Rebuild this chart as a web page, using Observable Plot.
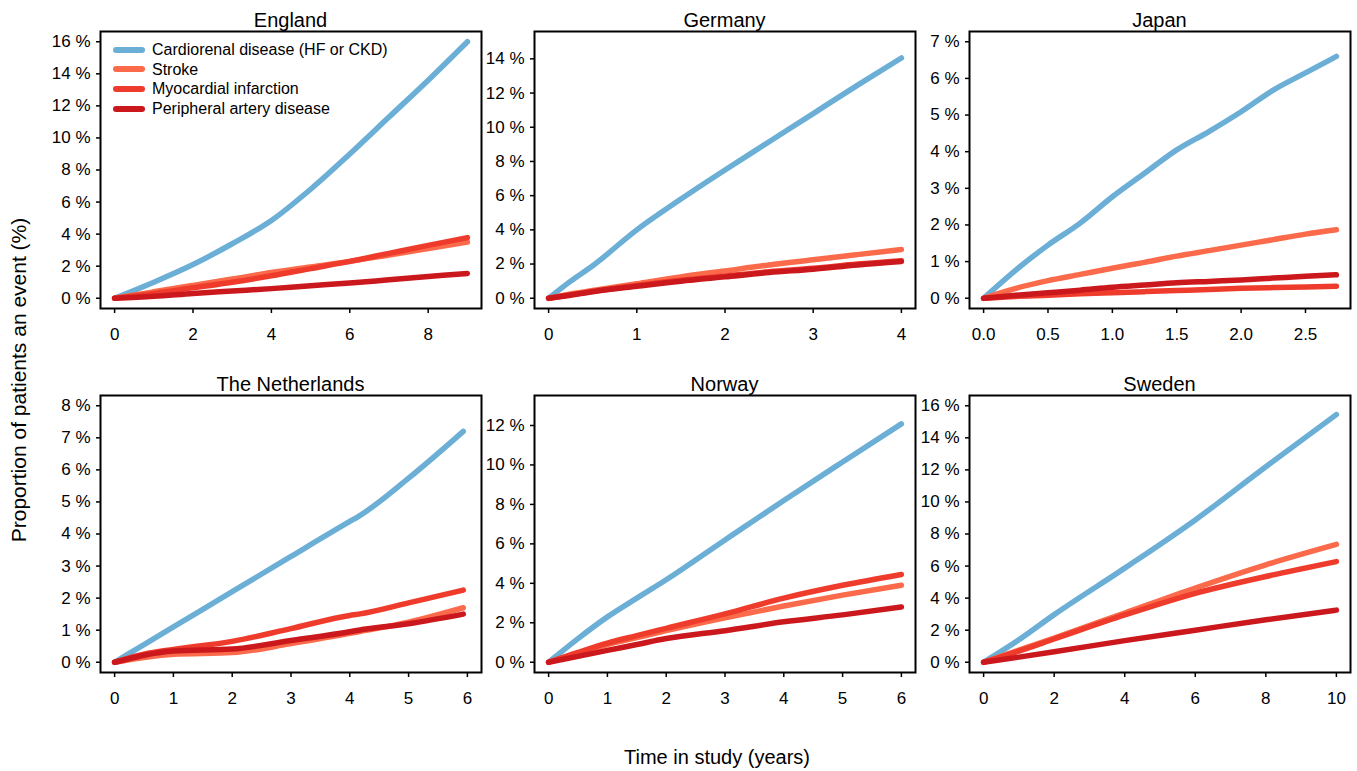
<!DOCTYPE html>
<html><head><meta charset="utf-8">
<script src="https://cdn.jsdelivr.net/npm/d3@7"></script>
<script src="https://cdn.jsdelivr.net/npm/@observablehq/plot@0.6"></script>
<style>
body{margin:0;background:#fff;font-family:"Liberation Sans",Arial,sans-serif;color:#000;}
#root{position:relative;width:1357px;height:771px;overflow:hidden;background:#fff;}
.panel{position:absolute;}
.title{position:absolute;text-align:center;font-size:20px;line-height:20px;white-space:nowrap;}
.xlab{position:absolute;left:617px;width:200px;top:747px;text-align:center;font-size:20px;line-height:20px;white-space:nowrap;}
.ylab{position:absolute;left:18px;top:380px;transform:translate(-50%,-50%) rotate(-90deg);font-size:21px;line-height:21px;white-space:nowrap;}
.legend{position:absolute;left:113px;top:40px;font-size:16px;line-height:19.6px;}
.legend div{display:flex;align-items:center;height:19.6px;white-space:nowrap;}
.legend span.sw{display:inline-block;width:32px;height:6px;border-radius:3px;margin-right:7px;}
</style></head>
<body><div id="root"></div>
<script>
// ---- series ----
const seriesNames = ["Cardiorenal disease (HF or CKD)", "Stroke", "Myocardial infarction", "Peripheral artery disease"];
const seriesColors = ["#6baed6", "#fb6a4a", "#ef3b2c", "#cb181d"];

// ---- England ----
const englandTimes = [0, 1, 2, 3, 4, 5, 6, 7, 8, 9];
const englandCardio = [0, 1.0, 2.1, 3.4, 4.85, 6.8, 9.0, 11.3, 13.6, 16.0];
const englandStroke = [0, 0.4, 0.8, 1.2, 1.6, 1.95, 2.3, 2.7, 3.1, 3.5];
const englandMI = [0, 0.3, 0.65, 1.0, 1.4, 1.85, 2.3, 2.8, 3.3, 3.78];
const englandPAD = [0, 0.12, 0.3, 0.45, 0.6, 0.78, 0.95, 1.15, 1.35, 1.55];
const englandXTicks = [0, 2, 4, 6, 8];
const englandYTicks = [0, 2, 4, 6, 8, 10, 12, 14, 16];

// ---- Germany ----
const germanyTimes = [0, 0.25, 0.5, 1, 1.5, 2, 2.5, 3, 3.5, 4];
const germanyCardio = [0, 1.0, 1.9, 4.0, 5.8, 7.5, 9.15, 10.8, 12.45, 14.05];
const germanyStroke = [0, 0.25, 0.45, 0.85, 1.25, 1.6, 1.95, 2.25, 2.55, 2.85];
const germanyMI = [0, 0.2, 0.4, 0.75, 1.05, 1.3, 1.55, 1.75, 2.0, 2.2];
const germanyPAD = [0, 0.18, 0.38, 0.7, 1.0, 1.25, 1.5, 1.7, 1.95, 2.15];
const germanyXTicks = [0, 1, 2, 3, 4];
const germanyYTicks = [0, 2, 4, 6, 8, 10, 12, 14];

// ---- Japan ----
const japanTimes = [0, 0.25, 0.5, 0.75, 1, 1.25, 1.5, 1.75, 2, 2.25, 2.5, 2.74];
const japanCardio = [0, 0.77, 1.45, 2.05, 2.77, 3.41, 4.05, 4.55, 5.09, 5.68, 6.15, 6.6];
const japanStroke = [0, 0.27, 0.48, 0.65, 0.82, 0.98, 1.15, 1.3, 1.45, 1.6, 1.75, 1.87];
const japanMI = [0, 0.05, 0.08, 0.12, 0.15, 0.18, 0.21, 0.24, 0.27, 0.29, 0.31, 0.33];
const japanPAD = [0, 0.08, 0.15, 0.22, 0.3, 0.36, 0.42, 0.46, 0.5, 0.55, 0.6, 0.64];
const japanXTicks = [0, 0.5, 1.0, 1.5, 2.0, 2.5];
const japanYTicks = [0, 1, 2, 3, 4, 5, 6, 7];

// ---- The Netherlands ----
const netherlandsTimes = [0, 0.5, 1, 2, 3, 4, 4.15, 5, 5.93];
const netherlandsCardio = [0, 0.55, 1.1, 2.2, 3.3, 4.39, 4.55, 5.74, 7.2];
const netherlandsStroke = [0, 0.15, 0.25, 0.3, 0.58, 0.9, 0.95, 1.25, 1.7];
const netherlandsMI = [0, 0.25, 0.4, 0.65, 1.05, 1.46, 1.5, 1.85, 2.25];
const netherlandsPAD = [0, 0.22, 0.35, 0.41, 0.68, 0.95, 1.0, 1.2, 1.5];
const netherlandsXTicks = [0, 1, 2, 3, 4, 5, 6];
const netherlandsYTicks = [0, 1, 2, 3, 4, 5, 6, 7, 8];

// ---- Norway ----
const norwayTimes = [0, 0.5, 1, 1.5, 2, 3, 4, 5, 6];
const norwayCardio = [0, 1.2, 2.3, 3.25, 4.18, 6.2, 8.2, 10.15, 12.08];
const norwayStroke = [0, 0.45, 0.9, 1.25, 1.6, 2.25, 2.85, 3.4, 3.9];
const norwayMI = [0, 0.5, 0.97, 1.35, 1.72, 2.45, 3.25, 3.9, 4.45];
const norwayPAD = [0, 0.3, 0.6, 0.9, 1.2, 1.6, 2.05, 2.4, 2.8];
const norwayXTicks = [0, 1, 2, 3, 4, 5, 6];
const norwayYTicks = [0, 2, 4, 6, 8, 10, 12];

// ---- Sweden ----
const swedenTimes = [0, 1, 2, 4, 6, 8, 10];
const swedenCardio = [0, 1.4, 2.97, 5.87, 8.88, 12.2, 15.45];
const swedenStroke = [0, 0.75, 1.51, 3.07, 4.63, 6.08, 7.35];
const swedenMI = [0, 0.7, 1.45, 2.95, 4.3, 5.35, 6.28];
const swedenPAD = [0, 0.32, 0.65, 1.35, 2.0, 2.65, 3.25];
const swedenXTicks = [0, 2, 4, 6, 8, 10];
const swedenYTicks = [0, 2, 4, 6, 8, 10, 12, 14, 16];

// ---- layout ----
const colLeft = [100, 534, 969];
const rowTop = [31, 395];
const frameW = 381, frameH = 277;
const mL = 100, mR = 10, mT = 31, mB = 45;

// axis limits with 4% padding as in the original
const pad = (lo, hi) => [lo - 0.04 * (hi - lo), hi + 0.04 * (hi - lo)];

const panels = [
  {title: "England", times: englandTimes, vals: [englandCardio, englandStroke, englandMI, englandPAD], xlim: [0, 9], ylim: [0, 16], xTicks: englandXTicks, yTicks: englandYTicks, xFmt: d3.format("d"), col: 0, row: 0},
  {title: "Germany", times: germanyTimes, vals: [germanyCardio, germanyStroke, germanyMI, germanyPAD], xlim: [0, 4], ylim: [0, 15], xTicks: germanyXTicks, yTicks: germanyYTicks, xFmt: d3.format("d"), col: 1, row: 0},
  {title: "Japan", times: japanTimes, vals: [japanCardio, japanStroke, japanMI, japanPAD], xlim: [0, 2.74], ylim: [0, 7], xTicks: japanXTicks, yTicks: japanYTicks, xFmt: d3.format(".1f"), col: 2, row: 0},
  {title: "The Netherlands", times: netherlandsTimes, vals: [netherlandsCardio, netherlandsStroke, netherlandsMI, netherlandsPAD], xlim: [0, 6], ylim: [0, 8], xTicks: netherlandsXTicks, yTicks: netherlandsYTicks, xFmt: d3.format("d"), col: 0, row: 1},
  {title: "Norway", times: norwayTimes, vals: [norwayCardio, norwayStroke, norwayMI, norwayPAD], xlim: [0, 6], ylim: [0, 13], xTicks: norwayXTicks, yTicks: norwayYTicks, xFmt: d3.format("d"), col: 1, row: 1},
  {title: "Sweden", times: swedenTimes, vals: [swedenCardio, swedenStroke, swedenMI, swedenPAD], xlim: [0, 10], ylim: [0, 16], xTicks: swedenXTicks, yTicks: swedenYTicks, xFmt: d3.format("d"), col: 2, row: 1}
];

const root = document.getElementById("root");

for (const p of panels) {
  const rows = [];
  p.vals.forEach((arr, i) => arr.forEach((v, j) => rows.push({t: p.times[j], v, s: seriesNames[i]})));
  const chart = Plot.plot({
    width: mL + frameW + mR,
    height: mT + frameH + mB,
    marginLeft: mL, marginRight: mR, marginTop: mT, marginBottom: mB,
    style: {background: "transparent", overflow: "visible", fontFamily: '"Liberation Sans", Arial, sans-serif', fontSize: "17px", color: "#000", maxWidth: "none"},
    x: {domain: pad(...p.xlim), ticks: p.xTicks, tickFormat: p.xFmt, tickSize: 5, tickPadding: 14, label: null},
    y: {domain: pad(...p.ylim), ticks: p.yTicks, tickFormat: d => d + " %", tickSize: 4, tickPadding: 6, label: null},
    color: {domain: seriesNames, range: seriesColors},
    marks: [
      Plot.line(rows, {x: "t", y: "v", z: "s", stroke: "s", strokeWidth: 5.5, strokeLinecap: "round", strokeLinejoin: "round", curve: "monotone-x"}),
      Plot.frame({stroke: "#000", strokeWidth: 2})
    ]
  });
  const holder = document.createElement("div");
  holder.className = "panel";
  holder.style.left = (colLeft[p.col] - mL) + "px";
  holder.style.top = (rowTop[p.row] - mT) + "px";
  holder.appendChild(chart);
  root.appendChild(holder);
  chart.querySelectorAll("g[aria-label$='tick'] path, g[aria-label$='tick'] line").forEach(e => e.setAttribute("stroke-width", "1.5"));

  const t = document.createElement("div");
  t.className = "title";
  t.textContent = p.title;
  t.style.left = colLeft[p.col] + "px";
  t.style.width = frameW + "px";
  t.style.top = (rowTop[p.row] - 21) + "px";
  root.appendChild(t);
}

// legend
const leg = document.createElement("div");
leg.className = "legend";
seriesNames.forEach((n, i) => {
  const r = document.createElement("div");
  const sw = document.createElement("span");
  sw.className = "sw";
  sw.style.background = seriesColors[i];
  r.appendChild(sw);
  r.appendChild(document.createTextNode(n));
  leg.appendChild(r);
});
root.appendChild(leg);

const xl = document.createElement("div");
xl.className = "xlab";
xl.textContent = "Time in study (years)";
root.appendChild(xl);

const yl = document.createElement("div");
yl.className = "ylab";
yl.textContent = "Proportion of patients an event (%)";
root.appendChild(yl);
</script>
</body></html>
